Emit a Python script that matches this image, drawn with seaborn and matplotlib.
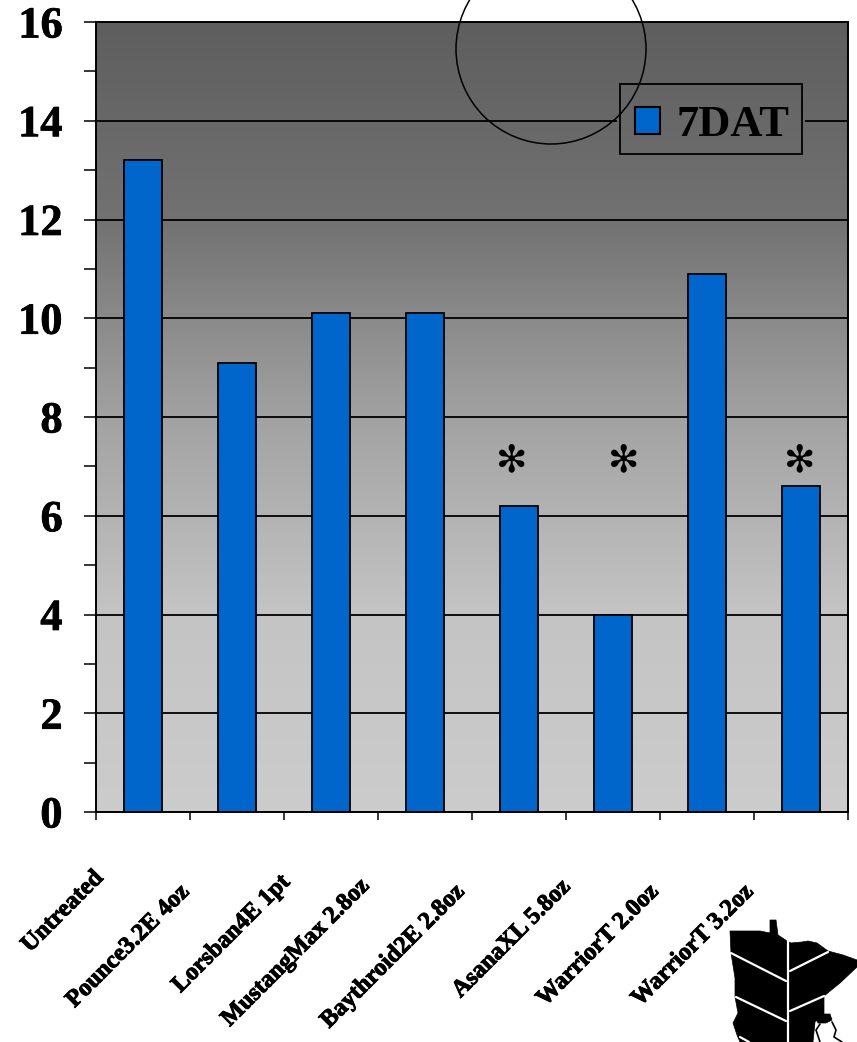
import numpy as np
import pandas as pd
import matplotlib
matplotlib.use("Agg")
import matplotlib.pyplot as plt
import matplotlib.patheffects as pe
from matplotlib.patches import Circle, Patch, Polygon, Rectangle
from matplotlib.lines import Line2D
from matplotlib.transforms import Affine2D
import seaborn as sns

# Trap counts seven days after treatment
treatments = ["Untreated", "Pounce3.2E 4oz", "Lorsban4E 1pt", "MustangMax 2.8oz",
              "Baythroid2E 2.8oz", "AsanaXL 5.8oz", "WarriorT 2.0oz", "WarriorT 3.2oz"]
seven_dat = [13.2, 9.1, 10.1, 10.1, 6.2, 4.0, 10.9, 6.6]
series_name = "7DAT"

# Right-hand ends of the slanted category labels, in canvas pixels
label_x = [100, 186, 287, 366, 461, 567, 655, 750]
label_y = [875, 889, 879, 883, 889, 884, 889, 889]
# Significance markers, in canvas pixels
star_x = [512, 624, 800]

W, H = 857, 1042
sns.set_theme(style="white")
plt.rcParams["font.family"] = ["Liberation Serif", "DejaVu Serif"]
plt.rcParams["font.weight"] = "bold"

fig = plt.figure(figsize=(W / 100, H / 100), dpi=100, facecolor="white")
px = Affine2D().scale(1 / W, -1 / H).translate(0, 1) + fig.transFigure
ax = fig.add_axes([96 / W, 1 - 812 / H, (848 - 96) / W, (812 - 22) / H])

df = pd.DataFrame({"treatment": treatments, "count": seven_dat})
sns.barplot(data=df, x="treatment", y="count", ax=ax, color="#0066CC", saturation=1,
            width=0.404, edgecolor="black", linewidth=1.3, zorder=1)

# Vertical shading behind the bars
shade = np.linspace(0, 1, 256).reshape(-1, 1)
shade_kw = dict(aspect="auto", cmap=matplotlib.colors.LinearSegmentedColormap.from_list(
    "wall", ["#5E5E5E", "#727272", "#A2A2A2", "#C4C4C4", "#CCCCCC"]),
    extent=(-0.5, 7.5, 0, 16), origin="upper", vmin=0, vmax=1)
ax.imshow(shade, zorder=0, **shade_kw)
# Repeat the shading over the gridlines behind the legend box
patch_img = ax.imshow(shade, zorder=0.7, **shade_kw)
patch_img.set_clip_path(Rectangle((617, 81), 188, 76, transform=px))

ax.set_xlim(-0.5, 7.5)
ax.set_ylim(0, 16)
ax.set_axisbelow(True)
ax.set_xlabel("")
ax.set_ylabel("")

ax.set_yticks(np.arange(0, 17, 2))
ax.set_yticks(np.arange(1, 16, 2), minor=True)
ax.yaxis.grid(True, which="major", color="black", linewidth=1.3)
ax.tick_params(axis="y", which="both", left=True, direction="out", length=8.5, width=1.1,
               color="black", pad=15.5)
ax.set_yticklabels([str(v) for v in range(0, 17, 2)], fontsize=32, fontweight="bold",
                   color="black")
for tick_label in ax.get_yticklabels():
    tick_label.set_path_effects([pe.withStroke(linewidth=0.5, foreground="black")])

ax.set_xticks(np.arange(-0.5, 8, 1))
ax.set_xticks(np.arange(0, 8, 1), minor=True)
ax.set_xticklabels([])
ax.tick_params(axis="x", which="major", bottom=True, direction="out", length=5.8, width=1.1,
               color="black")
ax.tick_params(axis="x", which="minor", bottom=True, direction="in", length=4.5, width=1.1,
               color="black")

for side in ax.spines.values():
    side.set_visible(True)
    side.set_color("black")
    side.set_linewidth(1.4)

for name, x, y in zip(treatments, label_x, label_y):
    fig.text(x, y, name, transform=px, rotation=45, rotation_mode="anchor",
             ha="right", va="center", fontsize=17.5, fontweight="bold", color="black",
             path_effects=[pe.withStroke(linewidth=0.7, foreground="black")])

for x in star_x:
    fig.text(x, 461, "\u273b", transform=px, ha="center", va="center", fontsize=27,
             fontfamily="DejaVu Sans", fontweight="normal", color="black")

# Legend frame, with its entry set slightly low inside it
ax.add_patch(Rectangle((620, 84), 182, 70, transform=px, fill=False, edgecolor="black",
                       linewidth=1.3, zorder=6, clip_on=False))
legend = ax.legend(handles=[Patch(facecolor="#0066CC", edgecolor="black", linewidth=1.5,
                                  label=series_name)],
                   loc="center", bbox_to_anchor=(712, 125), bbox_transform=px,
                   prop={"family": "Liberation Serif", "weight": "bold", "size": 32},
                   labelcolor="black", frameon=False,
                   handlelength=0.56, handleheight=0.56, handletextpad=0.36,
                   borderpad=0, borderaxespad=0)
legend.set_zorder(6)

# Hand-drawn ring around the top of the plot
fig.add_artist(Circle((551, 49), 95, transform=px, fill=False, edgecolor="black",
                      linewidth=1.1, zorder=5))

# State-shaped leaf emblem in the lower right corner
state = [(730, 931), (760, 931), (770, 933), (770, 920), (776, 920), (778, 935), (787, 941),
         (791, 943), (802, 942), (808, 941), (817, 943), (828, 951), (843, 955), (857, 960),
         (857, 967), (840, 983), (824, 996), (824, 1015), (815, 1022), (813, 1042),
         (740, 1042), (737, 1035), (733, 1023), (738, 1013), (735, 997), (735, 978),
         (731, 953)]
fig.add_artist(Polygon(state, transform=px, facecolor="black", edgecolor="black",
                       linewidth=0.5, zorder=3))
veins = [[(788, 940), (788, 1042)], [(731, 953), (786, 981)], [(736, 997), (786, 1021)],
         [(828, 952), (790, 971)], [(824, 996), (790, 1011)], [(740, 1037), (749, 1042)]]
for seg in veins:
    xs, ys = zip(*seg)
    fig.add_artist(Line2D(xs, ys, transform=px, color="white", linewidth=1.6, zorder=4))
# Small bird figure beside the emblem
bird_head = [(816, 1018), (822, 1014), (830, 1014), (832, 1020), (826, 1023), (818, 1023)]
fig.add_artist(Polygon(bird_head, transform=px, facecolor="black", edgecolor="black",
                       linewidth=0.5, zorder=4))
bird_body = [[(832, 1022), (836, 1030), (834, 1037), (842, 1042)],
             [(820, 1024), (816, 1030), (820, 1042)]]
for seg in bird_body:
    xs, ys = zip(*seg)
    fig.add_artist(Line2D(xs, ys, transform=px, color="black", linewidth=1.2, zorder=4))

fig.savefig("out.png", dpi=100, facecolor="white")
